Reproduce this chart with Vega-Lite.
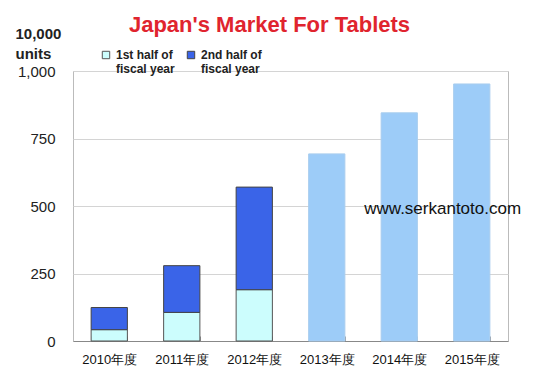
{
  "$schema": "https://vega.github.io/schema/vega-lite/v6.json",
  "width": 435,
  "height": 270,
  "autosize": "none",
  "padding": {"left": 73, "top": 71, "right": 29, "bottom": 40},
  "background": "white",
  "title": {
    "text": "Japan's Market For Tablets",
    "font": "Liberation Sans",
    "fontSize": 22,
    "fontWeight": "bold",
    "color": "#e0242e",
    "anchor": "middle",
    "dx": -21,
    "frame": "group",
    "offset": -11
  },
  "config": {
    "view": {"stroke": "#bbbbbb", "strokeWidth": 1},
    "font": "Liberation Sans"
  },
  "layer": [
    {
      "data": {
        "values": [
          {"year": "2010年度", "part": "1st", "idx": 1, "value": 42},
          {"year": "2010年度", "part": "2nd", "idx": 2, "value": 82},
          {"year": "2011年度", "part": "1st", "idx": 1, "value": 106},
          {"year": "2011年度", "part": "2nd", "idx": 2, "value": 173},
          {"year": "2012年度", "part": "1st", "idx": 1, "value": 190},
          {"year": "2012年度", "part": "2nd", "idx": 2, "value": 380},
          {"year": "2013年度", "part": "forecast", "idx": 1, "value": 693},
          {"year": "2014年度", "part": "forecast", "idx": 1, "value": 845},
          {"year": "2015年度", "part": "forecast", "idx": 1, "value": 952}
        ]
      },
      "mark": {"type": "bar", "strokeWidth": 1},
      "encoding": {
        "x": {
          "field": "year",
          "type": "nominal",
          "sort": null,
          "scale": {"paddingInner": 0.5, "paddingOuter": 0.25},
          "axis": {
            "title": null,
            "labelAngle": 0,
            "labelFontSize": 13,
            "labelColor": "#111111",
            "labelPadding": 17,
            "tickBand": "extent",
            "tickSize": -5,
            "tickColor": "#999999",
            "domainColor": "#888888"
          }
        },
        "y": {
          "field": "value",
          "type": "quantitative",
          "stack": "zero",
          "scale": {"domain": [0, 1000]},
          "axis": {
            "values": [0, 250, 500, 750, 1000],
            "labelExpr": "format(datum.value, ',')",
            "title": ["10,000", "units"],
            "titleAngle": 0,
            "titleAlign": "left",
            "titleBaseline": "top",
            "titleX": -58,
            "titleY": -45,
            "titleFontSize": 15,
            "titleFontWeight": "bold",
            "titleColor": "#222222",
            "titleLineHeight": 20,
            "labelFontSize": 15,
            "labelColor": "#222222",
            "labelPadding": 18,
            "ticks": false,
            "domain": false,
            "gridColor": "#d4d4d4"
          }
        },
        "order": {"field": "idx", "type": "quantitative"},
        "color": {
          "field": "part",
          "type": "nominal",
          "scale": {
            "domain": ["1st", "2nd", "forecast"],
            "range": ["#ccfdfd", "#3a64e8", "#9dccf8"]
          },
          "legend": {
            "values": ["1st", "2nd"],
            "orient": "none",
            "direction": "horizontal",
            "legendX": 27,
            "legendY": -22,
            "title": null,
            "symbolType": "square",
            "symbolSize": 55,
            "symbolStrokeColor": "#666666",
            "symbolStrokeWidth": 1,
            "labelFontSize": 12,
            "labelFontWeight": "bold",
            "labelColor": "#222222",
            "labelExpr": "datum.label == '1st' ? ['1st half of', 'fiscal year'] : ['2nd half of', 'fiscal year']",
            "columnPadding": 10,
            "labelOffset": 4
          }
        },
        "stroke": {
          "field": "part",
          "type": "nominal",
          "scale": {
            "domain": ["1st", "2nd", "forecast"],
            "range": ["#555555", "#444444", "#a9cdee"]
          },
          "legend": null
        }
      }
    },
    {
      "data": {"values": [{"year": "2014年度", "value": 500, "label": "www.serkantoto.com"}]},
      "mark": {"type": "text", "align": "left", "baseline": "middle", "dx": -35, "dy": 3, "fontSize": 17, "color": "#111111"},
      "encoding": {
        "x": {"field": "year", "type": "nominal", "sort": null},
        "y": {"field": "value", "type": "quantitative"},
        "text": {"field": "label"}
      }
    }
  ]
}
